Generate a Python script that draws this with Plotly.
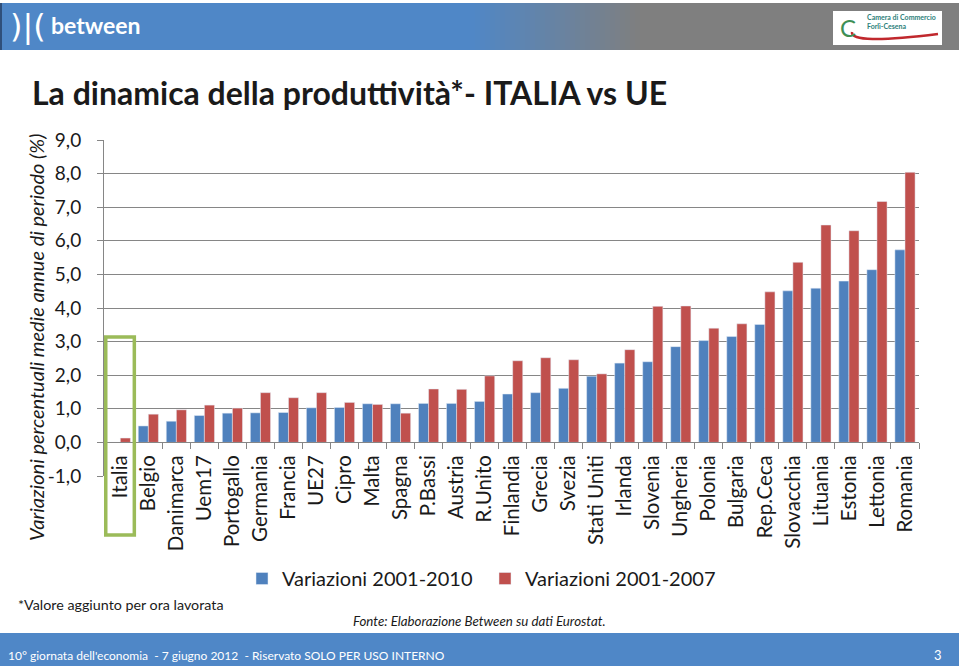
import plotly.graph_objects as go

# ---------------- data ----------------
countries = ["Italia", "Belgio", "Danimarca", "Uem17", "Portogallo", "Germania", "Francia",
             "UE27", "Cipro", "Malta", "Spagna", "P.Bassi", "Austria", "R.Unito",
             "Finlandia", "Grecia", "Svezia", "Stati Uniti", "Irlanda", "Slovenia",
             "Ungheria", "Polonia", "Bulgaria", "Rep.Ceca", "Slovacchia", "Lituania",
             "Estonia", "Lettonia", "Romania"]
var_2001_2010 = [0.0, 0.49, 0.63, 0.80, 0.87, 0.88, 0.89, 1.03, 1.04, 1.15, 1.15, 1.16, 1.16,
                 1.22, 1.44, 1.48, 1.61, 1.97, 2.36, 2.40, 2.85, 3.03, 3.15, 3.51, 4.51,
                 4.59, 4.80, 5.14, 5.73]
var_2001_2007 = [0.13, 0.84, 0.97, 1.11, 1.02, 1.48, 1.33, 1.48, 1.19, 1.13, 0.87, 1.59, 1.58,
                 1.98, 2.43, 2.52, 2.46, 2.04, 2.76, 4.05, 4.06, 3.40, 3.53, 4.48, 5.36,
                 6.47, 6.30, 7.17, 8.04]
y_ticks = [-1, 0, 1, 2, 3, 4, 5, 6, 7, 8, 9]
y_tick_labels = ["-1,0", "0,0", "1,0", "2,0", "3,0", "4,0", "5,0", "6,0", "7,0", "8,0", "9,0"]
series_names = ["Variazioni 2001-2010", "Variazioni 2001-2007"]
highlight = "Italia"

# ---------------- layout helpers (pixel -> paper) ----------------
W, H = 959, 670
L, R, T, B = 104, 919, 140, 476
PW, PH = R - L, B - T


def px(x):
    return (x - L) / PW


def py(y):
    return (B - y) / PH


BLUE = "#4F81BD"
RED = "#C0504D"
BAND = "#4F87C7"
GRAY = "#868686"
FONT = "Lato"

fig = go.Figure()
fig.add_trace(go.Bar(x=countries, y=var_2001_2010, name=series_names[0], marker_color=BLUE))
fig.add_trace(go.Bar(x=countries, y=var_2001_2007, name=series_names[1], marker_color=RED))

shapes = []
annotations = []

# header band with gradient
shapes.append(dict(type="rect", xref="paper", yref="paper", x0=px(0), x1=px(470),
                   y0=py(50), y1=py(3), fillcolor=BAND, line_width=0, layer="below"))
steps = 34
c0 = (0x4F, 0x87, 0xC7)
c1 = (0x7F, 0x7F, 0x7F)
gx0, gx1 = 470, 640
for i in range(steps):
    t = (i + 0.5) / steps
    col = "rgb(%d,%d,%d)" % tuple(round(a + (b - a) * t) for a, b in zip(c0, c1))
    xa = gx0 + (gx1 - gx0) * i / steps
    xb = gx0 + (gx1 - gx0) * (i + 1) / steps + 0.6
    shapes.append(dict(type="rect", xref="paper", yref="paper", x0=px(xa), x1=px(xb),
                       y0=py(50), y1=py(3), fillcolor=col, line_width=0, layer="below"))
shapes.append(dict(type="rect", xref="paper", yref="paper", x0=px(gx1), x1=px(W),
                   y0=py(50), y1=py(3), fillcolor="#7F7F7F", line_width=0, layer="below"))
shapes.append(dict(type="rect", xref="paper", yref="paper", x0=px(0), x1=px(2),
                   y0=py(50), y1=py(3), fillcolor="#2F4F7A", line_width=0, layer="below"))
# camera di commercio logo box
shapes.append(dict(type="rect", xref="paper", yref="paper", x0=px(833), x1=px(942),
                   y0=py(45), y1=py(11), fillcolor="white", line_width=0))
shapes.append(dict(type="path", xref="paper", yref="paper",
                   path="M %f,%f Q %f,%f %f,%f" % (px(852), py(32), px(850), py(45),
                                                    px(938), py(34)),
                   line=dict(color="#C0282D", width=2.5)))
annotations.append(dict(text="C", xref="paper", yref="paper", x=px(848), y=py(27),
                        showarrow=False, font=dict(family=FONT, size=24, color="#3E8F55"),
                        xanchor="center", yanchor="middle"))
annotations.append(dict(text="<b>Camera di Commercio</b><br><b>Forlì-Cesena</b>", xref="paper",
                        yref="paper", x=px(865), y=py(22), align="left", showarrow=False,
                        font=dict(family=FONT, size=7, color="#2E7F7A"),
                        xanchor="left", yanchor="middle"))
# between logo
annotations.append(dict(text=")|(", xref="paper", yref="paper", x=px(28), y=py(26),
                        showarrow=False, font=dict(family="DejaVu Sans", size=32, color="white"),
                        xanchor="center", yanchor="middle"))
annotations.append(dict(text="<b>between</b>", xref="paper", yref="paper", x=px(49), y=py(25),
                        showarrow=False, font=dict(family=FONT, size=23, color="white"),
                        xanchor="left", yanchor="middle"))

# title
annotations.append(dict(text="<b>La dinamica della produttività*- ITALIA vs UE</b>",
                        xref="paper", yref="paper", x=px(30), y=py(92), showarrow=False,
                        font=dict(family=FONT, size=32, color="#1a1a1a"),
                        xanchor="left", yanchor="middle"))
# y axis title
annotations.append(dict(text="<i>Variazioni percentuali medie annue di periodo (%)</i>",
                        xref="paper", yref="paper", x=px(36), y=py(338), textangle=-90,
                        showarrow=False, font=dict(family=FONT, size=20, color="#1a1a1a"),
                        xanchor="center", yanchor="middle"))
# highlight rectangle around Italia
idx = countries.index(highlight)
shapes.append(dict(type="rect", xref="x", yref="paper", x0=idx - 0.52, x1=idx + 0.50,
                   y0=py(535), y1=py(337), line=dict(color="#9BBB59", width=3.5),
                   fillcolor="rgba(0,0,0,0)"))

# notes
annotations.append(dict(text="*Valore aggiunto per ora lavorata", xref="paper", yref="paper",
                        x=px(16), y=py(604), showarrow=False,
                        font=dict(family=FONT, size=14.3, color="#1a1a1a"),
                        xanchor="left", yanchor="middle"))
annotations.append(dict(text="<i>Fonte: Elaborazione Between su dati Eurostat.</i>",
                        xref="paper", yref="paper", x=px(351), y=py(621), showarrow=False,
                        font=dict(family=FONT, size=13.3, color="#1a1a1a"),
                        xanchor="left", yanchor="middle"))
# footer band
shapes.append(dict(type="rect", xref="paper", yref="paper", x0=px(0), x1=px(W),
                   y0=py(666), y1=py(633), fillcolor=BAND, line_width=0, layer="below"))
annotations.append(dict(text="10° giornata dell'economia  - 7 giugno 2012  - Riservato SOLO PER USO INTERNO",
                        xref="paper", yref="paper", x=px(6), y=py(655), showarrow=False,
                        font=dict(family=FONT, size=12, color="white"),
                        xanchor="left", yanchor="middle"))
annotations.append(dict(text="3", xref="paper", yref="paper", x=px(938), y=py(655),
                        showarrow=False, font=dict(family=FONT, size=13, color="white"),
                        xanchor="center", yanchor="middle"))

fig.update_layout(
    width=W, height=H,
    margin=dict(l=L, r=W - R, t=T, b=H - B, pad=0),
    paper_bgcolor="white", plot_bgcolor="white",
    barmode="group", bargap=0.28, bargroupgap=0,
    font=dict(family=FONT, color="#1a1a1a"),
    showlegend=True,
    legend=dict(orientation="h", x=px(242), y=py(559), xanchor="left", yanchor="top",
                font=dict(family=FONT, size=20, color="#1a1a1a"), entrywidth=198,
                bgcolor="rgba(0,0,0,0)"),
    shapes=shapes, annotations=annotations,
    xaxis=dict(type="category", anchor="free", position=py(442), showline=True,
               linecolor=GRAY, linewidth=1, ticks="outside", ticklen=6, tickcolor=GRAY,
               tickson="boundaries", tickangle=-90, showgrid=False,
               tickfont=dict(family=FONT, size=20.5, color="#1a1a1a"), ticklabelstandoff=4),
    yaxis=dict(range=[-1, 9], tickvals=y_ticks, ticktext=y_tick_labels, showgrid=True,
               gridcolor=GRAY, gridwidth=1, zeroline=False, showline=True, linecolor=GRAY,
               ticks="outside", ticklen=6, tickcolor=GRAY,
               tickfont=dict(family=FONT, size=19, color="#1a1a1a"), ticklabelstandoff=12),
)

fig.write_html("out.html", config={"displayModeBar": False},
               post_script="document.body.style.margin='0';")
